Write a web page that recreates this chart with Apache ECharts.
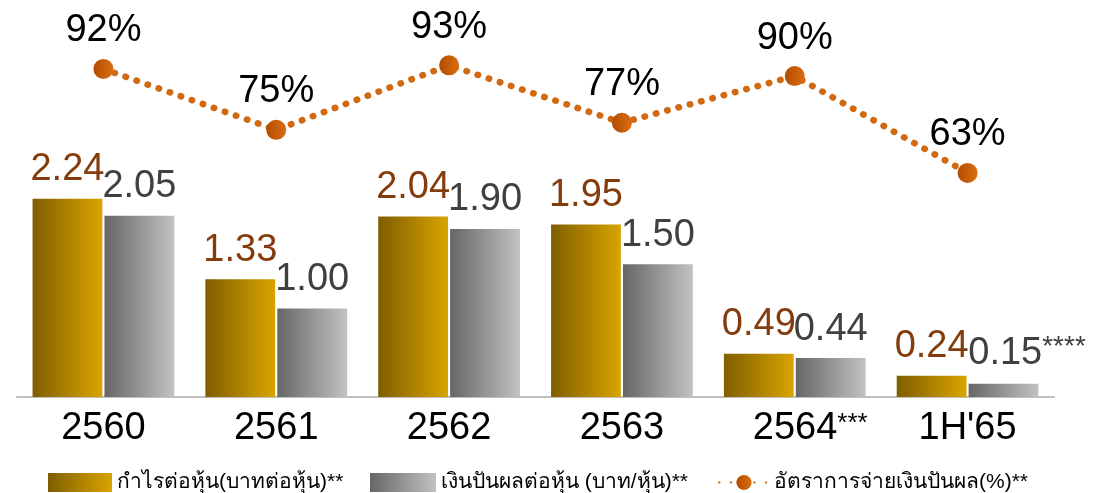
<!DOCTYPE html>
<html><head><meta charset="utf-8">
<script src="https://cdn.jsdelivr.net/npm/echarts@6/dist/echarts.min.js"></script>
<style>html,body{margin:0;padding:0;background:#fff;}#c{width:1112px;height:493px;}</style>
</head><body><div id="c"></div>
<script>
const categories = ['2560', '2561', '2562', '2563', '2564', "1H'65"];
const categoryNotes = ['', '', '', '', '***', ''];
const eps = [2.24, 1.33, 2.04, 1.95, 0.49, 0.24];
const dps = [2.05, 1.00, 1.90, 1.50, 0.44, 0.15];
const dpsNotes = ['', '', '', '', '', '****'];
const payout = [92, 75, 93, 77, 90, 63];
const seriesNames = ['กำไรต่อหุ้น(บาทต่อหุ้น)**', 'เงินปันผลต่อหุ้น (บาท/หุ้น)**', 'อัตราการจ่ายเงินปันผล(%)**'];

const FONT = 'Liberation Sans, Arial, Noto Sans, sans-serif';
const chart = echarts.init(document.getElementById('c'));
const grad = (a, b) => new echarts.graphic.LinearGradient(0, 0, 1, 0, [{offset: 0, color: a}, {offset: 1, color: b}]);
const legendText = {fontSize: 21, color: '#000', fontFamily: FONT};

chart.setOption({
  animation: false,
  grid: {left: 17, right: 58, top: 37, bottom: 96},
  legend: [
    {data: [seriesNames[0]], left: 48, top: 472, padding: 0, itemWidth: 64, itemHeight: 19, icon: 'rect', textStyle: legendText},
    {data: [seriesNames[1]], left: 370, top: 472, padding: 0, itemWidth: 66, itemHeight: 19, icon: 'rect', textStyle: legendText},
    {data: [seriesNames[2]], left: 718, top: 472, padding: 0, itemWidth: 50, itemHeight: 19, textStyle: legendText}
  ],
  xAxis: {
    type: 'category', data: categories,
    axisLine: {lineStyle: {color: '#BFBFBF', width: 2}},
    axisTick: {show: false},
    axisLabel: {
      interval: 0, margin: 13, color: '#000', fontSize: 38, fontFamily: FONT,
      formatter: (v, i) => categoryNotes[i] ? '{p|}' + v + '{s|' + categoryNotes[i] + '}' : v,
      rich: {p: {width: 31, fontSize: 38}, s: {fontSize: 26, fontFamily: FONT, color: '#000', padding: [0, 0, 10, 0]}}
    }
  },
  yAxis: [
    {type: 'value', min: 0, max: 4.07, show: false, splitLine: {show: false}},
    {type: 'value', min: 0.5, max: 100.9, show: false, splitLine: {show: false}}
  ],
  series: [
    {
      name: seriesNames[0], type: 'bar', data: eps, barCategoryGap: '18%', barGap: '3%',
      itemStyle: {color: grad('#7F5E00', '#D9A400')},
      label: {show: true, position: 'top', distance: 10, color: '#843C0C', fontSize: 38, fontFamily: FONT,
              formatter: p => p.value.toFixed(2)}
    },
    {
      name: seriesNames[1], type: 'bar', data: dps,
      itemStyle: {color: grad('#666666', '#C2C2C2')},
      label: {show: true, position: 'top', distance: 10, color: '#404040', fontSize: 38, fontFamily: FONT,
              formatter: p => dpsNotes[p.dataIndex] ? '{p|}' + p.value.toFixed(2) + '{s|' + dpsNotes[p.dataIndex] + '}' : p.value.toFixed(2),
              rich: {p: {width: 47, fontSize: 38}, s: {fontSize: 28, color: '#404040', fontFamily: FONT, padding: [0, 0, 12, 0]}}}
    },
    {
      name: seriesNames[2], type: 'line', yAxisIndex: 1, data: payout,
      symbol: 'circle', symbolSize: 20,
      lineStyle: {color: '#D0690F', width: 6.5, type: [0.5, 11.2], cap: 'round'},
      itemStyle: {color: grad('#B24C00', '#DA6E10')},
      label: {show: true, position: 'top', distance: 9, color: '#000', fontSize: 38, fontFamily: FONT,
              formatter: p => p.value + '%'}
    }
  ]
});
</script></body></html>
